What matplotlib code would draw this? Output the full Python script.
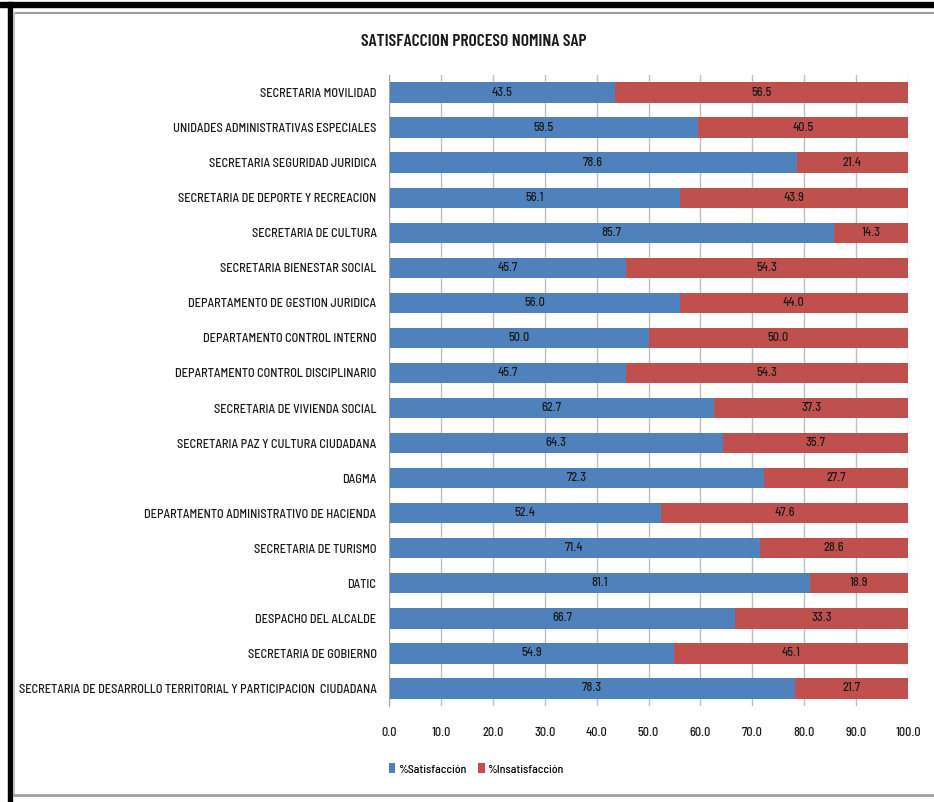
import matplotlib
matplotlib.use("Agg")
import matplotlib.pyplot as plt
from matplotlib import font_manager as fm
from matplotlib.lines import Line2D
from matplotlib.patches import Rectangle
import numpy as np

names = set(f.name for f in fm.fontManager.ttflist)

def pick(cands):
    for c in cands:
        if c in names:
            return c
    return "DejaVu Sans"

FONT = pick(["Barlow Semi Condensed", "Roboto Condensed", "Asap Condensed", "Archivo Narrow"])
TFONT = pick(["Barlow Condensed", "Barlow Semi Condensed", "Roboto Condensed"])
plt.rcParams['font.family'] = [FONT, 'DejaVu Sans']

categories = [
    "SECRETARIA MOVILIDAD",
    "UNIDADES ADMINISTRATIVAS ESPECIALES",
    "SECRETARIA SEGURIDAD JURIDICA",
    "SECRETARIA DE DEPORTE Y RECREACION",
    "SECRETARIA DE CULTURA",
    "SECRETARIA BIENESTAR SOCIAL",
    "DEPARTAMENTO DE GESTION JURIDICA",
    "DEPARTAMENTO CONTROL INTERNO",
    "DEPARTAMENTO CONTROL DISCIPLINARIO",
    "SECRETARIA DE VIVIENDA SOCIAL",
    "SECRETARIA PAZ Y CULTURA CIUDADANA",
    "DAGMA",
    "DEPARTAMENTO ADMINISTRATIVO DE HACIENDA",
    "SECRETARIA DE TURISMO",
    "DATIC",
    "DESPACHO DEL ALCALDE",
    "SECRETARIA DE GOBIERNO",
    "SECRETARIA DE DESARROLLO TERRITORIAL Y PARTICIPACION  CIUDADANA",
]
satisfaccion = [43.5, 59.5, 78.6, 56.1, 85.7, 45.7, 56.0, 50.0, 45.7,
                62.7, 64.3, 72.3, 52.4, 71.4, 81.1, 66.7, 54.9, 78.3]
insatisfaccion = [56.5, 40.5, 21.4, 43.9, 14.3, 54.3, 44.0, 50.0, 54.3,
                  37.3, 35.7, 27.7, 47.6, 28.6, 18.9, 33.3, 45.1, 21.7]
xticks = [0, 10, 20, 30, 40, 50, 60, 70, 80, 90, 100]
title = "SATISFACCION PROCESO NOMINA SAP"

BLUE = "#4F81BD"
RED = "#C0504D"
TXT = "#1a1a1a"
W = 'medium'

fig = plt.figure(figsize=(9.34, 8.02), dpi=100)
renderer = fig.canvas.get_renderer()

def fit_size(s, target_px, family, weight, base=10):
    t = fig.text(0, 0, s, fontsize=base, family=family, weight=weight)
    w = t.get_window_extent(renderer).width
    t.remove()
    return base * target_px / w

lab_fs = min(10, fit_size(categories[-1], 358, FONT, W))
title_fs = min(16, fit_size(title, 226, TFONT, 'semibold'))

ax = fig.add_axes([389/934, 1-706/802, 519/934, 631/802])

y = np.arange(len(categories))
b1 = ax.barh(y, satisfaccion, height=0.58, color=BLUE, label="%Satisfacción", zorder=2)
b2 = ax.barh(y, insatisfaccion, left=satisfaccion, height=0.58, color=RED, label="%Insatisfacción", zorder=2)
for bars, vals in ((b1, satisfaccion), (b2, insatisfaccion)):
    ax.bar_label(bars, labels=[f"{v:.1f}" for v in vals], label_type='center',
                 fontsize=lab_fs, color=TXT, weight=W)

ax.set_ylim(len(categories) - 0.5, -0.5)
ax.set_xlim(0, 100)
ax.set_yticks(y)
ax.set_yticklabels(categories, fontsize=lab_fs, color=TXT, weight=W)
ax.set_xticks(xticks)
ax.set_xticklabels([f"{v:.1f}" for v in xticks], fontsize=lab_fs, color=TXT, weight=W)
ax.tick_params(axis='y', length=0, pad=9)
ax.tick_params(axis='x', length=0, pad=15)
ax.grid(axis='x', color="#BFBFBF", linewidth=1, zorder=0)
for s in ('top', 'right', 'bottom'):
    ax.spines[s].set_visible(False)
ax.spines['left'].set_color("#A6A6A6")
ax.spines['left'].set_zorder(3)

fig.text(474/934, 1-42/802, title, ha='center', va='center',
         fontsize=title_fs, color=TXT, family=[TFONT, 'DejaVu Sans'], weight='semibold')

fig.legend(handles=[b1, b2], loc='center', bbox_to_anchor=(476/934, 1-769/802),
           ncol=2, frameon=False, prop={'size': lab_fs * 0.97, 'weight': W},
           handlelength=0.55, handleheight=0.9,
           handletextpad=0.2, columnspacing=1.0)

# frame
fig.add_artist(Rectangle((0, 1-7/802), 1, 5/802, transform=fig.transFigure, color="black"))
fig.add_artist(Rectangle((8/934, 0), 4/934, 1-2/802, transform=fig.transFigure, color="black"))
fig.add_artist(Line2D([14/934, 1], [1-13/802, 1-13/802], transform=fig.transFigure, color="#A0A0A0", lw=1.5))
fig.add_artist(Line2D([14/934, 14/934], [1-13/802, 1-795/802], transform=fig.transFigure, color="#C0C0C0", lw=1.5))
fig.add_artist(Line2D([14/934, 1], [1-795/802, 1-795/802], transform=fig.transFigure, color="#A0A0A0", lw=2))

fig.savefig("out.png", dpi=100)
